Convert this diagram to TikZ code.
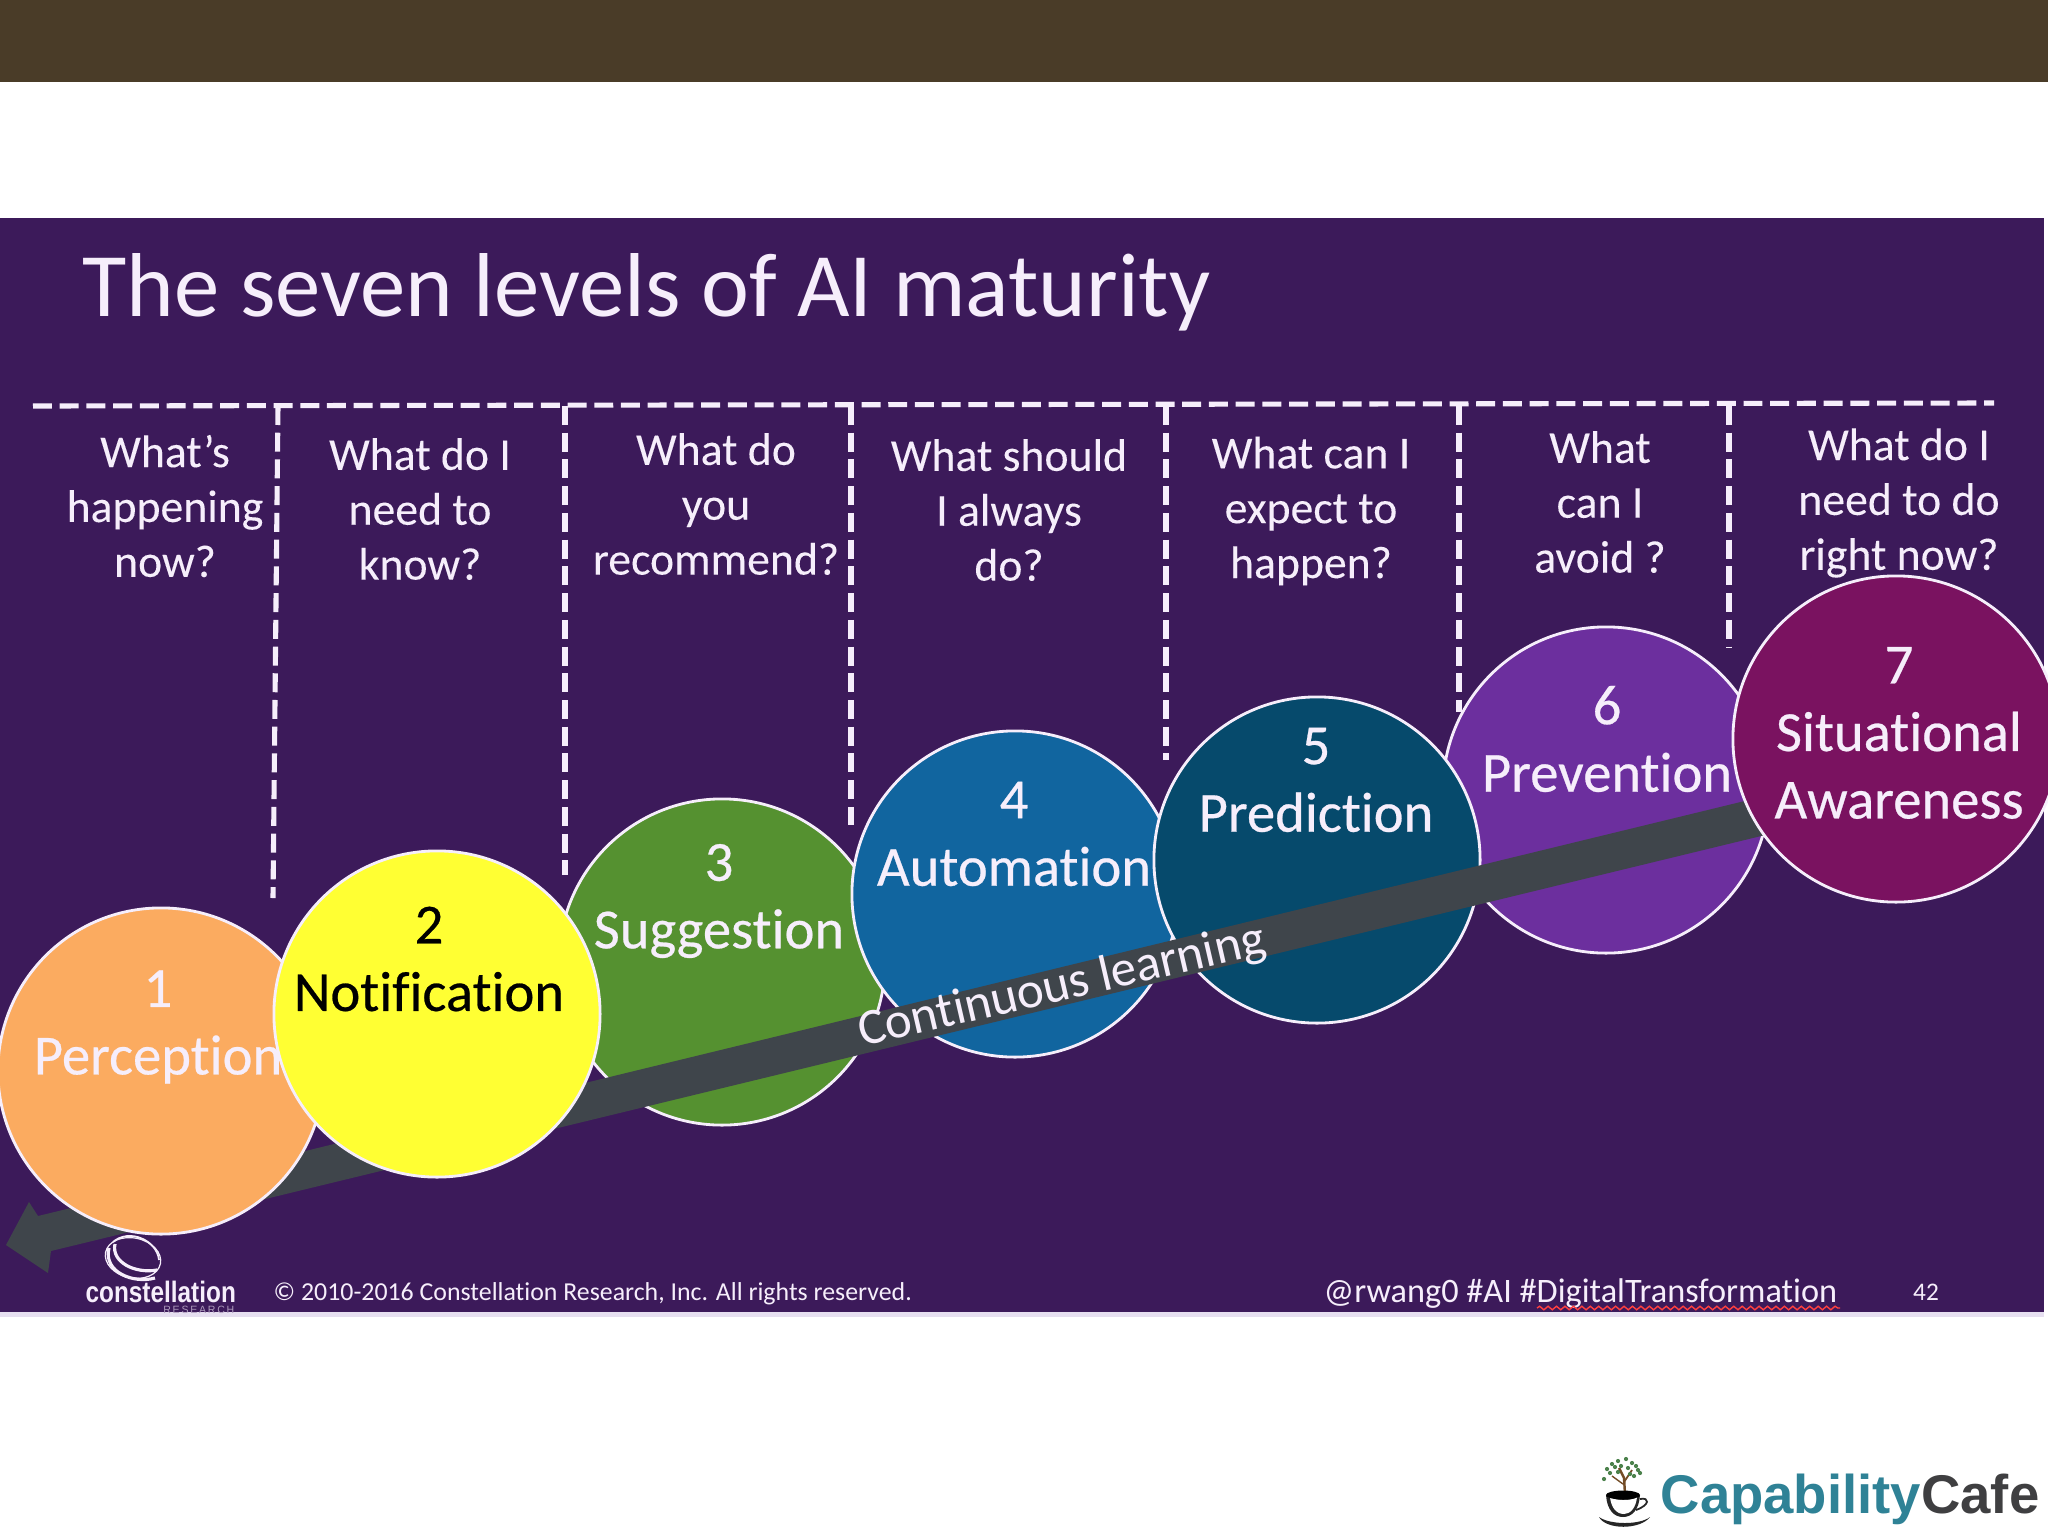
\documentclass[tikz,border=0pt]{standalone}
\usepackage{fontspec}
\setmainfont[Ligatures=NoCommon]{Carlito}
\newfontfamily\lvlfont[Ligatures=NoCommon,FakeBold=0.45]{Carlito}
\newfontfamily\askfont[Ligatures=NoCommon,FakeBold=0.12]{Carlito}
\newfontfamily\logofont{Liberation Sans}
\usetikzlibrary{decorations.pathmorphing}
\definecolor{bandcol}{HTML}{4A3C28}
\definecolor{panelcol}{HTML}{3C1A5A}
\definecolor{stripcol}{HTML}{E6DFF0}
\definecolor{inkcol}{HTML}{F6EEFB}
\definecolor{arrowcol}{HTML}{3F454B}
\definecolor{tealcol}{HTML}{2F8296}
\definecolor{cafecol}{HTML}{3F3F41}
\definecolor{cone}{HTML}{FBAB60}
\definecolor{ctwo}{HTML}{FFFF33}
\definecolor{cthree}{HTML}{559130}
\definecolor{cfour}{HTML}{11659F}
\definecolor{cfive}{HTML}{064A6C}
\definecolor{csix}{HTML}{6C2F9E}
\definecolor{cseven}{HTML}{7A1260}
\tikzset{
  lvl/.style={circle,draw=inkcol,line width=0.8pt,minimum size=3.26cm,inner sep=0pt,fill=#1},
  lvltext/.style={text=inkcol,align=center,font=\lvlfont\fontsize{16.1}{19.2}\selectfont,inner sep=0pt},
  ask/.style={text=inkcol,align=center,font=\askfont\fontsize{13}{15.6}\selectfont,inner sep=0pt},
  divider/.style={draw=inkcol,line width=1.45pt,dash pattern=on 5.4pt off 2.2pt},
  foot/.style={text=inkcol,font=\fontsize{7.35}{9}\selectfont,inner sep=0pt}
}
\begin{document}
\begin{tikzpicture}[x=0.01cm,y=-0.01cm]
\useasboundingbox (0,0) rectangle (2048,1536);
\clip (0,0) rectangle (2048,1536);
\fill[white] (0,0) rectangle (2048,1536);
\fill[bandcol] (0,0) rectangle (2048,82);
\fill[panelcol] (0,218) rectangle (2044,1312);
\fill[stripcol] (0,1312) rectangle (2044,1317);

\node[anchor=west,text=inkcol,inner sep=0pt,font=\fontsize{25.8}{30}\selectfont] (title) at (82,292) {The seven levels of AI maturity};

% dashed frame
\coordinate (topL) at (33,406);
\coordinate (topR) at (1994,403);
\draw[divider] (topL) -- (topR);
\foreach \n/\xa/\xb/\yb in {a/278/273/898,b/565/565/875,c/851/851/825,d/1166/1166/760,e/1459/1459/712,f/1729/1729/648}{
  \coordinate (\n1) at (\xa,406);
  \coordinate (\n2) at (\xb,\yb);
  \draw[divider] (\n1) -- (\n2);
}

% questions
\node[ask] (q1) at (165,506) {What’s\\happening\\now?};
\node[ask] (q2) at (420,509) {What do I\\need to\\know?};
\node[ask] (q3) at (716,504) {What do\\you\\recommend?};
\node[ask] (q4) at (1009,510) {What should\\I always\\do?};
\node[ask] (q5) at (1311,511) {What can I\\expect to\\happen?};
\node[ask] (q6) at (1600,502) {What\\can I\\avoid ?};
\node[ask] (q7) at (1899,503) {What do I\\need to do\\right now?};

% circles behind the bar
\node[lvl=csix] (c6) at (1606,790) {};
\node[lvl=cthree] (c3) at (722,962) {};
\node[lvl=cfour] (c4) at (1015,894) {};
\node[lvl=cfive] (c5) at (1317,860) {};
\node[lvltext] (t3) at (719,901) {3\\Suggestion};
\node[lvltext] (t4) at (1014,834) {4\\Automation};
\node[lvltext] (t5) at (1316,780) {5\\Prediction};
\node[lvltext] (t6) at (1607,739) {6\\Prevention};

% bar arrow
\fill[arrowcol] (6,1245) -- (29,1202) -- (38,1216) -- (1790,790) -- (1790,829) -- (51,1251) -- (48,1273) -- cycle;
\node[text=inkcol,rotate=13,inner sep=0pt,font=\fontsize{14.5}{16}\selectfont] (cl) at (1062,987) {Continuous learning};

% circles in front of the bar
\node[lvl=cone] (c1) at (161,1071) {};
\node[lvltext] (t1) at (158,1027) {1\\Perception};
\node[lvl=ctwo] (c2) at (437,1014) {};
\node[lvltext,text=black] (t2) at (429,959) {2\\Notification};
\node[lvl=cseven] (c7) at (1896,739) {};
\node[lvltext] (t7) at (1899,733) {7\\Situational\\Awareness};

% constellation logo
\begin{scope}[shift={(133,1258)}]
  \draw[inkcol,line width=0.35pt,rotate=-12] (0,0) ellipse (28 and 20);
  \draw[inkcol,line width=0.9pt] (-24,-10) .. controls (-30,14) and (0,26) .. (22,20);
  \draw[inkcol,line width=0.9pt] (-18,-14) .. controls (-22,4) and (2,16) .. (24,12);
  \draw[inkcol,line width=0.5pt] (-20,-16) .. controls (-4,-30) and (24,-18) .. (26,2);
\end{scope}
\node[anchor=base west,text=inkcol,inner sep=0pt,font=\logofont\bfseries\fontsize{8.4}{10}\selectfont,xscale=0.825] (cons) at (85,1302) {constellation};
\node[anchor=base east,text=inkcol!60!panelcol,inner sep=0pt,font=\logofont\fontsize{3}{3}\selectfont] (res) at (235,1313) {R\,E\,S\,E\,A\,R\,C\,H};

% footer
\node[foot,anchor=west] (copy) at (273,1294) {© 2010-2016 Constellation Research, Inc. All rights reserved.};
\node[foot,anchor=west,font=\fontsize{9.75}{11}\selectfont] (tags) at (1323,1294) {@rwang0 \#AI \#DigitalTransformation};
\node[foot,font=\fontsize{7.2}{9}\selectfont] (num) at (1926,1292) {42};
\coordinate (wa) at (1537,1308);
\coordinate (wb) at (1840,1308);
\draw[red!75!white,line width=0.4pt,decorate,decoration={snake,amplitude=0.5pt,segment length=2.4pt}] (wa) -- (wb);

% CapabilityCafe logo
\node[anchor=base west,inner sep=0pt,font=\logofont\bfseries\fontsize{15.5}{18}\selectfont] (capa) at (1660,1513) {\textcolor{tealcol}{Capability}\textcolor{cafecol}{Cafe}};
\draw[brown!60!black,line width=0.7pt] (1625,1494) -- (1624,1478) -- (1619,1468);
\draw[brown!60!black,line width=0.5pt] (1624,1482) -- (1632,1470);
\draw[brown!60!black,line width=0.4pt] (1623,1484) -- (1612,1476);
\foreach \px/\py in {1612/1464,1618/1461,1626/1459,1632/1463,1638/1470,1610/1473,1618/1472,1628/1468,1634/1476,1604/1479,1640/1473,1621/1466,1615/1467,1630/1474,1607/1469,1636/1466}{
  \fill[green!30!black!70] (\px,\py) circle (2.1);
}
\fill[black!85] (1606,1495) -- (1640,1495) .. controls (1639,1510) and (1632,1517) .. (1623,1517) .. controls (1614,1517) and (1607,1510) .. (1606,1495) -- cycle;
\fill[white] (1610,1497) .. controls (1616,1501) and (1632,1501) .. (1637,1497) .. controls (1636,1508) and (1630,1514) .. (1624,1514) .. controls (1616,1514) and (1611,1507) .. (1610,1497) -- cycle;
\draw[black!85,line width=0.5pt] (1640,1499) .. controls (1650,1497) and (1650,1505) .. (1636,1510);
\fill[black] (1623,1495) ellipse (17 and 4.5);
\fill[black!85] (1599,1517) .. controls (1606,1530) and (1640,1530) .. (1650,1517) .. controls (1640,1525) and (1610,1525) .. (1599,1517) -- cycle;
\end{tikzpicture}
\end{document}
